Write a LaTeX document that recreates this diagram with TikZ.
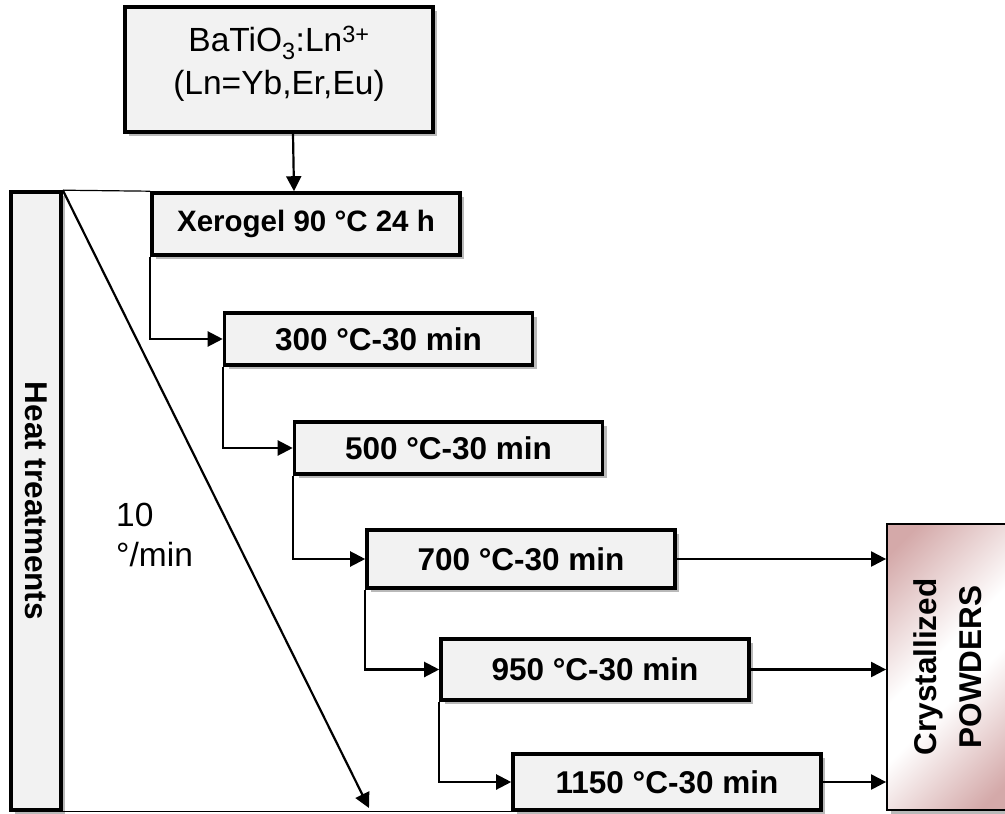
\documentclass[tikz,border=0pt]{standalone}
\usepackage{fontspec}
\setmainfont{Liberation Sans}
\usetikzlibrary{arrows.meta,shadows}
\definecolor{boxgray}{HTML}{F2F2F2}
\definecolor{shadowgray}{HTML}{B9B9B9}
\definecolor{powderpink}{HTML}{D4A9A9}
\pgfdeclarehorizontalshading{powdershade}{100bp}{color(0bp)=(powderpink); color(20bp)=(powderpink); color(44bp)=(white); color(54bp)=(white); color(80bp)=(powderpink); color(100bp)=(powderpink)}
\begin{document}
\begin{tikzpicture}[x=1pt, y=-1pt,
    every node/.style={font=\fontsize{31.5}{36}\selectfont\bfseries, inner sep=0pt},
    stage/.style={draw, line width=3.6pt, fill=boxgray, minimum width=308pt,
        drop shadow={shadow xshift=4pt, shadow yshift=-4pt, fill=shadowgray, opacity=1}},
    flow/.style={line width=2.2pt},
    >={Triangle[length=15pt, width=15pt]}]
    \useasboundingbox (0,0) rectangle (1005,814);
    % boxes
    \node[stage, minimum height=125pt, align=center, font=\fontsize{33.5}{43}\selectfont] (src) at (279,69.5) {BaTiO\textsubscript{3}:Ln\textsuperscript{3+}\\(Ln=Yb,Er,Eu)\rule[-19pt]{0pt}{1pt}};
    \node[stage, minimum height=62pt, font=\fontsize{29.5}{34}\selectfont\bfseries] (xero) at (306,224) {Xerogel 90 °C 24 h};
    \node[stage, minimum height=52pt] (t300) at (378.5,339) {300 °C-30 min};
    \node[stage, minimum height=52pt] (t500) at (448.5,448) {500 °C-30 min};
    \node[stage, minimum height=58pt] (t700) at (521,559) {700 °C-30 min};
    \node[stage, minimum height=61pt] (t950) at (595,669.5) {950 °C-30 min};
    \node[stage, minimum height=56pt] (t1150) at (667,782) {1150 °C-30 min};
    \node[stage, minimum width=50pt, minimum height=618pt] (heat) at (36,501) {\rotatebox{-90}{Heat treatments}};
    \node[draw, line width=1.8pt, minimum width=125pt, minimum height=286pt,
        shading=powdershade, shading angle=135,
        drop shadow={shadow xshift=4pt, shadow yshift=-4pt, fill=shadowgray, opacity=1},
        font=\fontsize{31.5}{45}\selectfont\bfseries] (powders) at (949.5,667) {\rotatebox{90}{\begin{tabular}{@{}c@{}}Crystallized\\POWDERS\end{tabular}}};
    \node[anchor=west, align=left, font=\fontsize{33.5}{40}\selectfont] (rate) at (116,535) {10\\°/min};
    \coordinate (rampend) at (369,808);
    % connectors
    \draw[->, flow] ([xshift=14pt]src.south) -- ([xshift=-12pt]xero.north);
    \draw[->, flow] (xero.south west) |- (t300.west);
    \draw[->, flow] (t300.south west) |- (t500.west);
    \draw[->, flow] (t500.south west) |- (t700.west);
    \draw[->, flow] (t700.south west) |- (t950.west);
    \draw[->, flow] (t950.south west) |- (t1150.west);
    \draw[->, flow] (t700.east) -- (t700.east -| powders.west);
    \draw[->, flow] (t950.east) -- (t950.east -| powders.west);
    \draw[->, flow] (t1150.east) -- (t1150.east -| powders.west);
    \draw[line width=1.2pt] (heat.north east) -- (xero.north west);
    \draw[line width=1.2pt] (heat.south east) -- (t1150.south west);
    \draw[->, flow] (heat.north east) -- (rampend);
\end{tikzpicture}
\end{document}
